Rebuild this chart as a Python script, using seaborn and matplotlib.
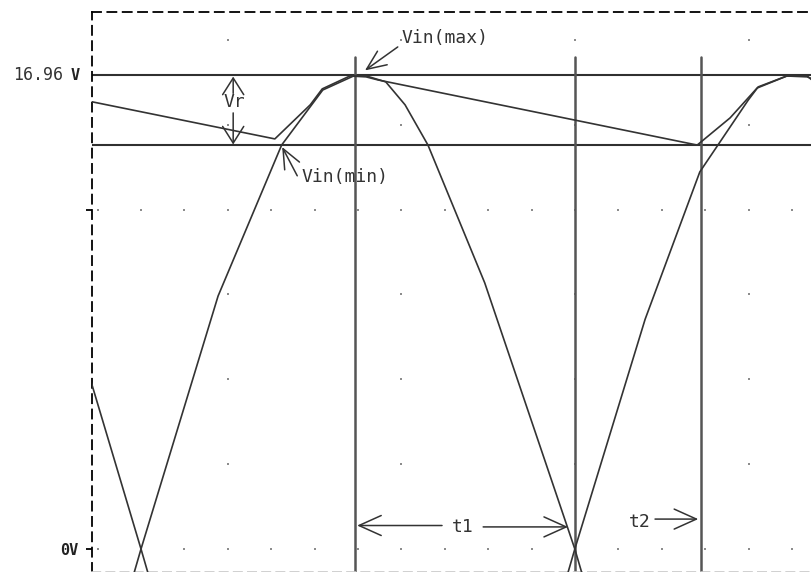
import numpy as np
import matplotlib
matplotlib.use("Agg")
import matplotlib.pyplot as plt
import seaborn as sns

# ---- waveform vertices (time in ms, voltage in V) ----
# secondary half A: rises from 0, peaks, falls back through 0
t_a = [-4.17, -0.33, 0.00, 1.48, 2.70, 3.49, 4.08, 4.33, 4.70, 5.07, 5.51, 6.60, 8.33, 8.65, 12.50]
v_a = [-16.96, -2.12, 0.00, 9.05, 14.45, 16.42, 16.92, 16.92, 16.71, 15.89, 14.45, 9.52, 0.00, -2.04, -16.96]

# secondary half B: opposite phase
t_b = [-1.00, 0.00, 0.33, 4.17, 8.00, 8.33, 9.68, 10.73, 11.66, 11.85, 12.40, 12.79, 13.00]
v_b = [6.24, 0.00, -2.12, -16.96, -2.12, 0.00, 8.22, 13.49, 16.06, 16.53, 16.92, 16.92, 16.60]

# filter capacitor voltage (charges near each peak, then discharges)
t_c = [-1.00, 2.57, 3.25, 3.48, 4.01, 4.32, 4.55, 10.68, 11.31, 11.83, 12.40, 12.79, 13.00]
v_c = [16.02, 14.67, 15.89, 16.46, 16.92, 16.89, 16.78, 14.45, 15.42, 16.49, 16.92, 16.89, 16.74]

# cursors
v_max = 16.96
v_min = 14.45
cursor_t = [4.11, 8.333, 10.75]

# ---- figure ----
sns.set_style("white")
plt.rcParams["font.family"] = ["DejaVu Sans Mono", "DejaVu Sans"]

fig = plt.figure(figsize=(8.12, 5.72), dpi=100)
ax = fig.add_axes([92 / 812, 0.5 / 572, 1 - 92 / 812, 559.5 / 572])
ax.set_xlim(-0.941, 12.884)
ax.set_ylim(-0.805, 19.21)

# dotted background grid
minor_t = np.arange(-1, 16) * (25 / 30)
major_t = 5 / 3 + np.arange(0, 4) * (10 / 3)
row_step = 3.035
rows = np.arange(0, 7) * row_step
gx, gy = [], []
for r in (0.0, 4 * row_step):
    gx += list(minor_t)
    gy += [r] * len(minor_t)
for c in major_t:
    gx += [c] * len(rows)
    gy += list(rows)
ax.scatter(gx, gy, s=2.2, marker="s", color="#8c8c8c", linewidths=0, zorder=0)

# cursor lines
for v in (v_max, v_min):
    ax.axhline(v, color="#303030", lw=1.5, zorder=2)
for t in cursor_t:
    ax.plot([t, t], [-1.0, 17.6], color="#555555", lw=1.8, zorder=2)

# waveforms
line_kw = dict(ax=ax, color="#333333", linewidth=1.2, estimator=None, sort=False, zorder=3)
sns.lineplot(x=t_a, y=v_a, **line_kw)
sns.lineplot(x=t_b, y=v_b, **line_kw)
sns.lineplot(x=t_c, y=v_c, **line_kw)

# frame
for side in ("right",):
    ax.spines[side].set_visible(False)
ax.spines["left"].set_linestyle((0, (5, 3.5)))
ax.spines["left"].set_color("black")
ax.spines["left"].set_linewidth(1.3)
ax.spines["top"].set_linestyle((0, (5, 3.5)))
ax.spines["top"].set_color("black")
ax.spines["top"].set_linewidth(1.3)
ax.spines["bottom"].set_linestyle((0, (5, 3.5)))
ax.spines["bottom"].set_color("#c8c8c8")
ax.spines["bottom"].set_linewidth(1.2)

ax.set_xticks([])
ax.set_yticks([0, 4 * row_step])
ax.set_yticklabels(["0V", ""])
ax.tick_params(axis="y", length=4.5, width=1.3, color="black", pad=5,
               labelsize=11, left=True)
for lab in ax.get_yticklabels():
    lab.set_fontweight("bold")
    lab.set_color("#222222")
ax.set_xlabel("")
ax.set_ylabel("")

# peak voltage label at the left
fig.text(63 / 812, 1 - 75 / 572, "16.96", ha="right", va="center",
         fontsize=12, color="#333333")
fig.text(71 / 812, 1 - 75 / 572, "V", ha="left", va="center",
         fontsize=11, fontweight="bold", color="#222222")

# annotations
txt_kw = dict(fontsize=13, color="#333333")


def arrow(tip, tail, hl=0.8, hw=0.36):
    ax.annotate("", xy=tip, xytext=tail,
                arrowprops=dict(arrowstyle=f"->,head_length={hl},head_width={hw}",
                                color="#333333", lw=1.1, mutation_scale=20,
                                shrinkA=0, shrinkB=0), zorder=4)


ax.text(5.0, 18.28, "Vin(max)", ha="left", va="center", **txt_kw)
arrow((4.30, 17.12), (4.93, 17.96), hl=0.7, hw=0.3)

ax.text(3.09, 13.31, "Vin(min)", ha="left", va="center", **txt_kw)
arrow((2.71, 14.38), (3.0, 13.35), hl=0.7, hw=0.3)

ax.text(1.79, 15.99, "Vr", ha="center", va="center", **txt_kw)
arrow((1.77, 16.90), (1.77, 16.30), hl=0.6, hw=0.38)
arrow((1.77, 14.47), (1.77, 15.60), hl=0.6, hw=0.38)

ax.text(6.18, 0.79, "t1", ha="center", va="center", **txt_kw)
arrow((4.15, 0.84), (5.78, 0.84))
arrow((8.20, 0.79), (6.57, 0.79))

ax.text(9.58, 0.97, "t2", ha="center", va="center", **txt_kw)
arrow((10.70, 1.07), (9.87, 1.07))

fig.savefig("out.png", dpi=100)
